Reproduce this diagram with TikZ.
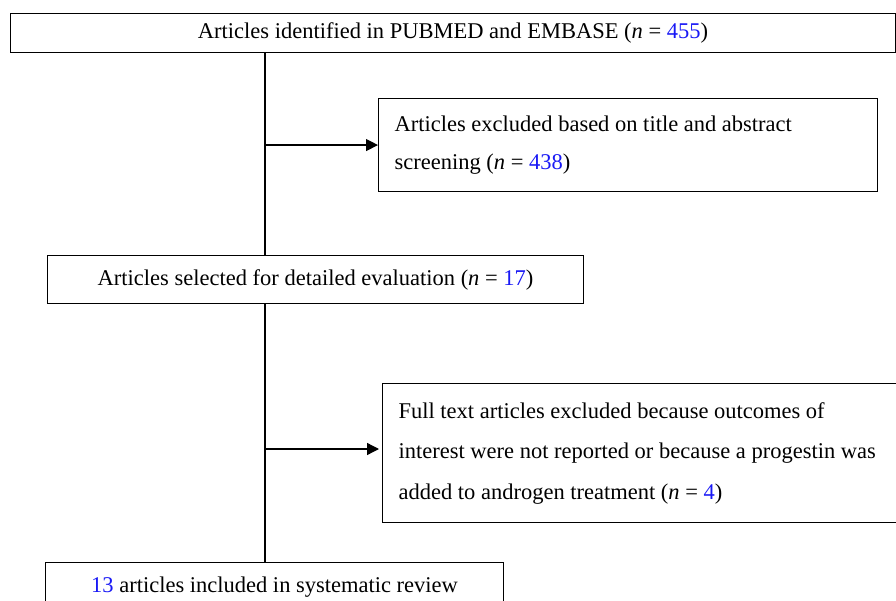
\documentclass[tikz,border=0pt]{standalone}
\usepackage{fontspec}
\setmainfont{Liberation Serif}
\usepackage{xcolor}
\usetikzlibrary{arrows.meta, positioning}
\definecolor{numblue}{RGB}{25,25,245}
\newcommand{\nval}[1]{\textcolor{numblue}{#1}}
\tikzset{
  flowbox/.style={draw, line width=1.1pt, rectangle, anchor=north west,
    inner xsep=16pt, font=\fontsize{22.5}{38}\selectfont},
  arr/.style={-{Triangle[length=12pt, width=12pt]}, line width=1.3pt}
}

\begin{document}
\begin{tikzpicture}[x=1pt, y=-1pt]
  \clip (0,0) rectangle (896,601);
  % boxes
  \node[flowbox, minimum width=885pt, minimum height=39pt] (ident) at (10,13)
    {Articles identified in PUBMED and EMBASE (\textit{n} = \nval{455})};
  \node[flowbox, minimum width=499pt, minimum height=93pt, align=flush left, text width=467pt] (excla) at (378,98)
    {Articles excluded based on title and abstract\\screening (\textit{n} = \nval{438})};
  \node[flowbox, minimum width=536pt, minimum height=48pt] (sel) at (47,255)
    {Articles selected for detailed evaluation (\textit{n} = \nval{17})};
  \node[flowbox, minimum width=528pt, minimum height=139pt, align=flush left, text width=496pt,
    font=\fontsize{22.5}{40.5}\selectfont] (exclb) at (382,383)
    {Full text articles excluded because outcomes of\\interest were not reported or because a progestin was\\added to androgen treatment (\textit{n} = \nval{4})};
  \node[flowbox, minimum width=458pt, minimum height=50pt] (incl) at (45,562)
    {\nval{13} articles included in systematic review};
  % spine and arrows
  \coordinate (spine) at (265,0);
  \coordinate (brk) at (265,377);
  \coordinate (arrb) at (265,449);
  \draw[line width=1.2pt] (ident.south -| spine) -- (sel.north -| spine);
  \draw[line width=1.2pt] (sel.south -| spine) -- (brk);
  \draw[line width=2pt] (brk) -- (incl.north -| spine);
  \draw[arr] (spine |- excla.west) -- (excla.west);
  \draw[arr, shorten >=3pt] (arrb) -- (arrb -| exclb.west);
\end{tikzpicture}
\end{document}
